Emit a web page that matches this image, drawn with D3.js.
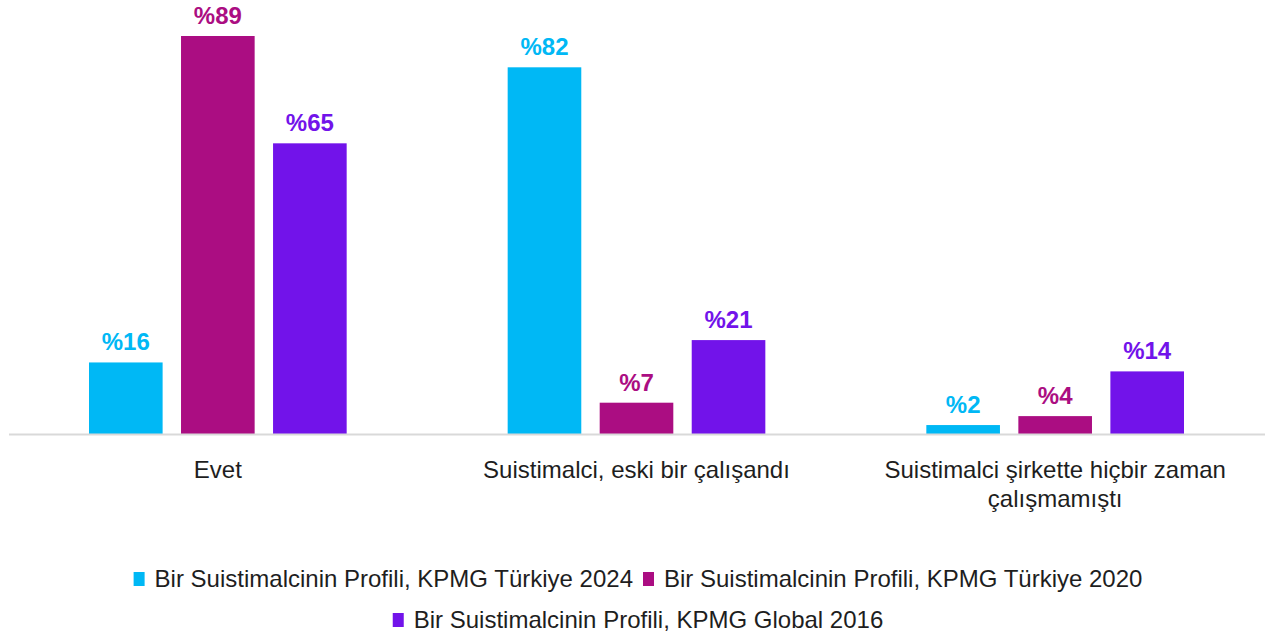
<!DOCTYPE html>
<html>
<head>
<meta charset="utf-8">
<script src="https://cdn.jsdelivr.net/npm/d3@7"></script>
<style>
  body { margin: 0; background: #fff; }
  svg { display: block; font-family: "Liberation Sans", Arial, sans-serif; }
</style>
</head>
<body>
<div id="chart"></div>
<script>
// categories and series
const categories = ["Evet", "Suistimalci, eski bir çalışandı", "Suistimalci şirkette hiçbir zaman çalışmamıştı"];
const seriesNames = [
    "Bir Suistimalcinin Profili, KPMG Türkiye 2024",
    "Bir Suistimalcinin Profili, KPMG Türkiye 2020",
    "Bir Suistimalcinin Profili, KPMG Global 2016"
];
const values2024 = [16, 82, 2];
const values2020 = [89, 7, 4];
const values2016 = [65, 21, 14];
const colors = ["#00B8F5", "#AB0D82", "#7213EA"];

const seriesValues = [values2024, values2020, values2016];

const W = 1276, H = 635;
const margin = { top: 36, left: 8.5, right: 11.5, baseline: 434 };

const svg = d3.select("#chart")
    .append("svg")
    .attr("width", W)
    .attr("height", H);

// scales
const x0 = d3.scaleBand()
    .domain(categories)
    .range([margin.left, W - margin.right])
    .padding(0);

const x1 = d3.scaleBand()
    .domain(d3.range(seriesNames.length))
    .range([80.5, x0.bandwidth() - 80.5])
    .paddingInner(0.2);

const y = d3.scaleLinear()
    .domain([0, 89])
    .range([margin.baseline, margin.top]);

// rows for the bars
const rows = [];
categories.forEach(function (c, ci) {
    seriesValues.forEach(function (vals, si) {
        rows.push({ cat: c, s: si, v: vals[ci] });
    });
});

// bars
svg.append("g").selectAll("rect")
    .data(rows)
    .join("rect")
    .attr("x", d => x0(d.cat) + x1(d.s))
    .attr("y", d => y(d.v))
    .attr("width", x1.bandwidth())
    .attr("height", d => y(0) - y(d.v))
    .attr("fill", d => colors[d.s]);

// value labels
svg.append("g").selectAll("text")
    .data(rows)
    .join("text")
    .attr("x", d => x0(d.cat) + x1(d.s) + x1.bandwidth() / 2)
    .attr("y", d => y(d.v) - 12)
    .attr("text-anchor", "middle")
    .attr("font-size", 24)
    .attr("font-weight", "bold")
    .attr("fill", d => colors[d.s])
    .text(d => "%" + d.v);

// x axis (only the baseline + labels)
const xAxis = svg.append("g")
    .attr("transform", `translate(0, ${margin.baseline})`)
    .call(d3.axisBottom(x0).tickSize(0).tickPadding(0));
xAxis.select(".domain").attr("stroke", "#d9d9d9").attr("stroke-width", 2);
xAxis.selectAll(".tick text").remove();

// category labels with wrapping
const catLabels = svg.append("g");
categories.forEach(function (c) {
    const t = catLabels.append("text")
        .attr("x", x0(c) + x0.bandwidth() / 2)
        .attr("y", margin.baseline + 43.5)
        .attr("text-anchor", "middle")
        .attr("font-size", 24)
        .attr("fill", "#1e1e1e");
    wrap(t, c, 380, 29);
});

function wrap(textSel, str, maxW, lh) {
    const words = str.split(" ");
    let line = [];
    const x = textSel.attr("x");
    let tspan = textSel.append("tspan").attr("x", x).attr("dy", 0);
    words.forEach(function (w) {
        line.push(w);
        tspan.text(line.join(" "));
        if (tspan.node().getComputedTextLength() > maxW && line.length > 1) {
            line.pop();
            tspan.text(line.join(" "));
            line = [w];
            tspan = textSel.append("tspan").attr("x", x).attr("dy", lh).text(w);
        }
    });
}

// legend, flowed into centered rows
const legend = svg.append("g");
const legendMax = 1100;
const gap = 10;
const items = seriesNames.map(function (name, i) {
    const g = legend.append("g");
    g.append("rect")
        .attr("x", 0).attr("y", -15)
        .attr("width", 11).attr("height", 14)
        .attr("fill", colors[i]);
    const t = g.append("text")
        .attr("x", 21).attr("y", 0)
        .attr("font-size", 24)
        .attr("fill", "#1e1e1e")
        .text(name);
    return { g: g, w: 21 + t.node().getComputedTextLength() };
});

const legendRows = [[]];
let rowW = 0;
items.forEach(function (it, i) {
    const cur = legendRows[legendRows.length - 1];
    const add = (cur.length ? gap : 0) + it.w;
    if (cur.length && (rowW + add > legendMax || i >= 2)) {
        legendRows.push([it]);
        rowW = it.w;
    } else {
        cur.push(it);
        rowW += add;
    }
});

legendRows.forEach(function (r, ri) {
    const total = d3.sum(r, d => d.w) + gap * (r.length - 1);
    let xx = W / 2 - total / 2;
    r.forEach(function (it) {
        it.g.attr("transform", `translate(${xx}, ${587 + ri * 41})`);
        xx += it.w + gap;
    });
});
</script>
</body>
</html>
